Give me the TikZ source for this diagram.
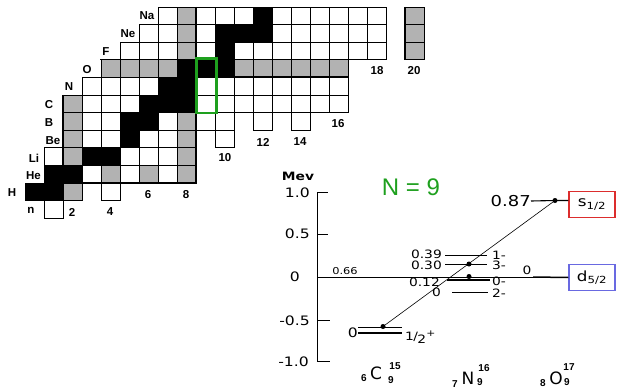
\documentclass[tikz,border=0pt]{standalone}
\usepackage{fontspec}
\setmainfont{Liberation Sans}
\newfontfamily\lvlfont[FakeStretch=1.2]{DejaVu Sans}
\newfontfamily\isofont{DejaVu Sans}
\definecolor{cellgray}{RGB}{178,178,178}
\definecolor{ngreen}{RGB}{30,160,30}
\definecolor{sred}{RGB}{220,45,45}
\definecolor{dblue}{RGB}{105,105,225}
\tikzset{
  cellw/.style={fill=white,draw=black,line width=0.6pt},
  cellg/.style={fill=cellgray,draw=black,line width=0.6pt},
  cellb/.style={fill=black,draw=black,line width=0.6pt},
  thickb/.style={draw=black,line width=1.6pt},
  elab/.style={font=\bfseries\fontsize{11.5}{12}\selectfont,inner sep=0pt},
  nlab/.style={font=\bfseries\fontsize{11.5}{12}\selectfont,inner sep=0pt},
  axlab/.style={font=\lvlfont\fontsize{13}{13}\selectfont,inner sep=0pt},
  lvlab/.style={font=\lvlfont\fontsize{11.5}{12}\selectfont,inner sep=0pt},
  lvline/.style={draw=black,line width=1pt},
  dot/.style={circle,fill=black,inner sep=0pt,minimum size=5pt},
  statebox/.style={line width=1.3pt,minimum width=46pt,minimum height=26pt,inner sep=0pt,font=\lvlfont\fontsize{14}{14}\selectfont},
  isolet/.style={font=\isofont\fontsize{17}{17}\selectfont,inner sep=0pt},
  isonum/.style={font=\bfseries\fontsize{10}{10}\selectfont,inner sep=0pt}
}
\newcommand{\cellrow}[3]{\foreach \n in {#2} {\path[#3] ({25+19*\n},{218-17.6*(#1+1)}) rectangle ++(19,17.6);}}
\begin{document}
\begin{tikzpicture}[x=1pt,y=-1pt]
\useasboundingbox (0,0) rectangle (619,391);
\fill[white] (0,0) rectangle (619,391);
% ---------- chart of nuclides ----------
\cellrow{0}{1}{cellw}
\cellrow{1}{0,1}{cellb} \cellrow{1}{2}{cellg} \cellrow{1}{4}{cellw}
\cellrow{2}{1,2}{cellb} \cellrow{2}{3,5,7}{cellw} \cellrow{2}{4,6,8}{cellg}
\cellrow{3}{1,5,6,7}{cellw} \cellrow{3}{2,8}{cellg} \cellrow{3}{3,4}{cellb}
\cellrow{4}{2,8}{cellg} \cellrow{4}{3,4,6,7,10}{cellw} \cellrow{4}{5}{cellb}
\cellrow{5}{2,8}{cellg} \cellrow{5}{3,4,7,9,10,12,14}{cellw} \cellrow{5}{5,6}{cellb}
\cellrow{6}{2}{cellg} \cellrow{6}{3,4,5,9,10,11,12,13,14,15,16}{cellw} \cellrow{6}{6,7,8}{cellb}
\cellrow{7}{3,4,5,6,9,10,11,12,13,14,15,16}{cellw} \cellrow{7}{7,8}{cellb}
\cellrow{8}{4,5,6,7,11,12,13,14,15,16}{cellg} \cellrow{8}{8,9,10}{cellb}
\cellrow{9}{5,6,7,9,11,12,13,14,15,16,17,18}{cellw} \cellrow{9}{8,20}{cellg} \cellrow{9}{10}{cellb}
\cellrow{10}{6,7,9,13,14,15,16,17,18}{cellw} \cellrow{10}{8,20}{cellg} \cellrow{10}{10,11,12}{cellb}
\cellrow{11}{7,9,10,11,13,14,15,16,17,18}{cellw} \cellrow{11}{8,20}{cellg} \cellrow{11}{12}{cellb}
% thick borders
\draw[thickb] (100,59.6) -- (348,59.6);
\draw[thickb] (234,77.2) -- (348,77.2);
\draw[thickb] (196,6.8) -- (196,59.6);
\draw[thickb] (196,77.2) -- (196,182.8);
\draw[thickb] (63,94.8) -- (63,182.8);
\draw[thickb] (82,182.8) -- (196,182.8);
\draw[thickb] (405,6.8) -- (405,59.6);
% green box
\draw[ngreen,line width=2.6pt] (196.3,58.3) rectangle (216.5,112.8);
% element labels
\node[elab] (lNa) at (147,16) {Na};
\node[elab] (lNe) at (128,34) {Ne};
\node[elab] (lF)  at (106,52) {F};
\node[elab] (lO)  at (87,70) {O};
\node[elab] (lN)  at (69,87) {N};
\node[elab] (lC)  at (49,105) {C};
\node[elab] (lB)  at (49,123) {B};
\node[elab] (lBe) at (53,141) {Be};
\node[elab] (lLi) at (34,158) {Li};
\node[elab] (lHe) at (33.5,176) {He};
\node[elab] (lH)  at (12,193) {H};
\node[elab] (ln)  at (31,210) {n};
% neutron numbers
\node[nlab] (n2)  at (72,212) {2};
\node[nlab] (n4)  at (110,212) {4};
\node[nlab] (n6)  at (148,195) {6};
\node[nlab] (n8)  at (186,195) {8};
\node[nlab] (n10) at (225,158) {10};
\node[nlab] (n12) at (263,142) {12};
\node[nlab] (n14) at (300,142) {14};
\node[nlab] (n16) at (338,124) {16};
\node[nlab] (n18) at (377,71) {18};
\node[nlab] (n20) at (414,71) {20};
% ---------- level diagram ----------
\node[text=ngreen,font=\fontsize{24}{24}\selectfont,inner sep=0pt] (title) at (411,187) {N = 9};
\node[font=\lvlfont\bfseries\fontsize{11.5}{12}\selectfont,inner sep=0pt] (mev) at (298,176) {Mev};
\draw[line width=1pt] (317,192) -- (317,361);
\draw[line width=1pt] (317,192) -- (328,192);
\draw[line width=1pt] (317,234) -- (328,234);
\draw[line width=1pt] (317,320) -- (330,320);
\draw[line width=1pt] (317,361) -- (330,361);
\node[axlab,anchor=east] (a1) at (310,193) {1.0};
\node[axlab,anchor=east] (a2) at (310,234) {0.5};
\node[axlab,anchor=east] (a3) at (300,277) {0};
\node[axlab,anchor=east] (a4) at (310,321) {-0.5};
\node[axlab,anchor=east] (a5) at (309,362) {-1.0};
% zero line
\draw[line width=0.9pt] (317,277) -- (569,277);
\node[font=\lvlfont\fontsize{9.5}{10}\selectfont,inner sep=0pt] (l066) at (345,271) {0.66};
% C15
\draw[line width=0.7pt] (358,327) -- (402,327);
\draw[line width=1.5pt] (358,333) -- (402,333);
\node[axlab,anchor=east] (c0) at (358,333) {0};
\node[lvlab,anchor=west] (chalf) at (405,337) {1\kern-0.05em/\kern-0.05em\raisebox{-0.5ex}{2}\raisebox{0.7ex}{\fontsize{9}{9}\selectfont+}};
% N16
\draw[lvline] (445,255) -- (487,255);
\draw[lvline] (445,264.5) -- (487,264.5);
\draw[line width=1.4pt] (447,280) -- (490,280);
\draw[lvline] (452,292) -- (488,292);
\node[lvlab,anchor=east] (e39) at (442,254) {0.39};
\node[lvlab,anchor=east] (e30) at (442,265) {0.30};
\node[lvlab,anchor=east] (e12) at (440,282) {0.12};
\node[lvlab,anchor=east] (e00) at (441,292) {0};
\node[lvlab,anchor=west] (j1) at (492,255) {1-};
\node[lvlab,anchor=west] (j3) at (492,265) {3-};
\node[lvlab,anchor=west] (j0) at (492,281) {0-};
\node[lvlab,anchor=west] (j2) at (492,293) {2-};
% O17
\node[statebox,draw=sred] (sbox) at (592,204.5) {s\textsubscript{1/2}};
\node[statebox,draw=dblue] (dbox) at (592,277.5) {d\textsubscript{5/2}};
\node[dot] (c15) at (383,326.5) {};
\node[dot] (n16a) at (469,264) {};
\node[dot] (n16b) at (469,276.5) {};
\node[dot] (o17) at (555,200.5) {};
\node[font=\lvlfont\fontsize{15}{15}\selectfont,inner sep=0pt,anchor=east] (e87) at (531,201) {0.87};
\draw[line width=1.1pt] (e87.east) -- (o17.center) -- (o17 -| sbox.west);
\draw[line width=1.5pt] (533,277) -- (dbox.west);
\node[lvlab] (o0) at (527,270) {0};
\draw[line width=0.6pt] (c15.center) -- (o17.center);
% isotope labels
\node[isonum] (c6) at (364,378) {6};
\node[isolet] (cC) at (376,373) {C};
\node[isonum] (c15u) at (395,366.5) {15};
\node[isonum] (c9) at (391,380.5) {9};
\node[isonum] (n7) at (455,384) {7};
\node[isolet] (nN) at (468,378) {N};
\node[isonum] (n16u) at (484,368) {16};
\node[isonum] (n9) at (480,382.5) {9};
\node[isonum] (o8) at (543,383) {8};
\node[isolet] (oO) at (556,378) {O};
\node[isonum] (o17u) at (569,367) {17};
\node[isonum] (o9) at (567,382) {9};
\end{tikzpicture}
\end{document}
